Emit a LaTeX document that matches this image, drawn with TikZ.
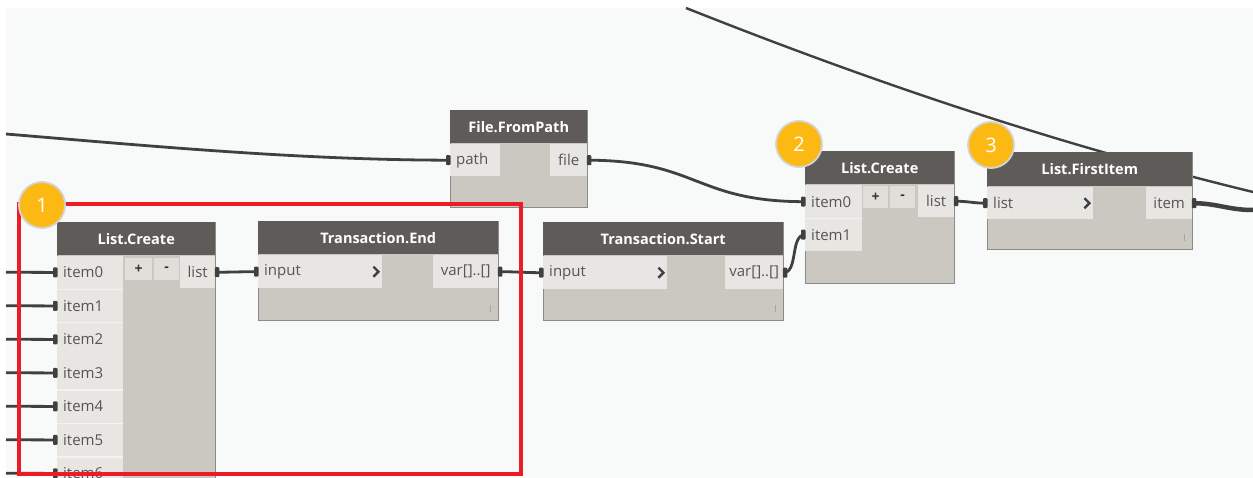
\documentclass[tikz,border=0pt]{standalone}
\usepackage{fontspec}
\setmainfont{Open Sans}
\usetikzlibrary{calc}

\definecolor{canvas}{HTML}{F8F9F9}
\definecolor{hdrfill}{HTML}{5E5B59}
\definecolor{bodyfill}{HTML}{CBC7C1}
\definecolor{portfill}{HTML}{E8E6E3}
\definecolor{btnfill}{HTML}{E1DEDA}
\definecolor{edge}{HTML}{8E8A86}
\definecolor{portfg}{HTML}{555555}
\definecolor{wirecol}{HTML}{404040}
\definecolor{frame}{HTML}{EC1C24}
\definecolor{badge}{HTML}{FDB913}
\definecolor{badgerim}{HTML}{D4D4D4}
\definecolor{sepline}{HTML}{F4F3F1}
\definecolor{chev}{HTML}{3A404A}

\pgfdeclarelayer{canvaslayer}
\pgfdeclarelayer{wires}
\pgfsetlayers{canvaslayer,wires,main}

\tikzset{
  nodebody/.style={draw=edge, line width=0.8pt, fill=bodyfill, anchor=north west,
    inner sep=0pt},
  hdr/.style={fill=hdrfill, anchor=north west, inner sep=0pt, minimum height=33pt,
    text=white, font=\fontsize{14.5}{16}\selectfont\bfseries},
  inport/.style={fill=portfill, anchor=north west, inner xsep=6pt, inner ysep=0pt,
    align=left, text=portfg, font=\fontsize{15}{17}\selectfont},
  outport/.style={fill=portfill, anchor=north west, inner sep=0pt,
    text=portfg, font=\fontsize{15}{17}\selectfont},
  btn/.style={fill=btnfill, anchor=north west, inner sep=0pt, text=black!80,
    font=\fontsize{14}{16}\selectfont\bfseries},
  wire/.style={draw=wirecol, line width=2.8pt},
  tab/.style={fill=wirecol, rounded corners=1pt},
  chevron/.style={draw=chev, line width=2.4pt},
  tick/.style={draw=gray!70, line width=1pt},
  sep/.style={draw=sepline, line width=1.2pt},
  marker/.style={circle, fill=badge, draw=badgerim, line width=1.8pt,
    minimum size=46pt, inner sep=0pt, text=white, font=\fontsize{20}{22}\selectfont},
}

% wire end tabs at port edges
\newcommand\intab[1]{\fill[tab] ($(#1.west)+(-4,-5)$) rectangle ($(#1.west)+(0.5,5)$);}
\newcommand\outtab[1]{\fill[tab] ($(#1.east)+(-0.5,-5)$) rectangle ($(#1.east)+(4,5)$);}
\newcommand\chevat[1]{\draw[chevron] ($(#1.east)+(-9,-5)$) -- ($(#1.east)+(-4,0)$) -- ($(#1.east)+(-9,5)$);}

\begin{document}
\begin{tikzpicture}[x=1pt,y=-1pt]
\useasboundingbox (0,0) rectangle (1253,478);
\begin{pgfonlayer}{canvaslayer}
  \fill[white] (0,0) rectangle (1253,478);
  \fill[canvas] (6,8) rectangle (1253,478);
\end{pgfonlayer}

% ---------- File.FromPath ----------
\node[nodebody, minimum width=137pt, minimum height=97pt] (fp) at (450,110) {};
\node[hdr, minimum width=137pt] (fp-h) at (450,110) {File.FromPath};
\node[inport, text width=38pt, minimum height=32pt] (fp-path) at (450,144) {path};
\node[outport, minimum width=37pt, minimum height=32pt] (fp-file) at (550,144) {file};

% ---------- List.Create (left) ----------
\node[nodebody, minimum width=158pt, minimum height=270pt] (lc1) at (57,222) {};
\node[hdr, minimum width=158pt] (lc1-h) at (57,222) {List.Create};
\foreach \i in {0,...,6}{
  \node[inport, text width=54pt, minimum height=33.5pt] (lc1-i\i) at (57,{255.5+33.5*\i}) {item\i};
}
\foreach \i in {0,1,3,4,5}{
  \draw[sep] (lc1-i\i.south west) -- (lc1-i\i.south east);
}
\node[btn, minimum width=27pt, minimum height=22pt] (lc1-plus) at (125,258) {+};
\node[btn, minimum width=25pt, minimum height=22pt] (lc1-minus) at (154,258) {-};
\node[outport, minimum width=35pt, minimum height=32pt] (lc1-list) at (180,256) {list};

% ---------- Transaction.End ----------
\node[nodebody, minimum width=240pt, minimum height=99pt] (te) at (258,221) {};
\node[hdr, minimum width=240pt] (te-h) at (258,221) {Transaction.End};
\node[inport, text width=112pt, minimum height=33pt] (te-in) at (258,255) {input};
\node[outport, minimum width=65pt, minimum height=33pt] (te-out) at (433,255) {var[]..[]};
\chevat{te-in}
\draw[tick] ($(te.south east)+(-8,-9)$) -- ($(te.south east)+(-8,-16)$);

% ---------- Transaction.Start ----------
\node[nodebody, minimum width=240pt, minimum height=98pt] (ts) at (543,222) {};
\node[hdr, minimum width=240pt] (ts-h) at (543,222) {Transaction.Start};
\node[inport, text width=112pt, minimum height=33pt] (ts-in) at (543,256) {input};
\node[outport, minimum width=58pt, minimum height=33pt] (ts-out) at (725,256) {var[]..[]};
\chevat{ts-in}
\draw[tick] ($(ts.south east)+(-8,-9)$) -- ($(ts.south east)+(-8,-16)$);

% ---------- List.Create (right) ----------
\node[nodebody, minimum width=149pt, minimum height=132pt] (lc2) at (805,151) {};
\node[hdr, minimum width=149pt] (lc2-h) at (805,151) {List.Create};
\node[inport, text width=45pt, minimum height=33pt] (lc2-i0) at (805,185) {item0};
\node[inport, text width=45pt, minimum height=33pt] (lc2-i1) at (805,218) {item1};
\draw[sep] (lc2-i0.south west) -- (lc2-i0.south east);
\node[btn, minimum width=25pt, minimum height=22pt] (lc2-plus) at (863,186) {+};
\node[btn, minimum width=25pt, minimum height=22pt] (lc2-minus) at (890,186) {-};
\node[outport, minimum width=36pt, minimum height=32pt] (lc2-list) at (918,185) {list};

% ---------- List.FirstItem ----------
\node[nodebody, minimum width=205pt, minimum height=97pt] (fi) at (987,152) {};
\node[hdr, minimum width=205pt, minimum height=34pt] (fi-h) at (987,152) {List.FirstItem};
\node[inport, text width=94pt, minimum height=32pt] (fi-list) at (987,187) {list};
\node[outport, minimum width=46pt, minimum height=32pt] (fi-item) at (1146,187) {item};
\chevat{fi-list}
\draw[tick] ($(fi.south east)+(-8,-9)$) -- ($(fi.south east)+(-8,-16)$);

% ---------- connectors ----------
\coordinate (topA) at (686,8);
\coordinate (topB) at (1253,192);
\coordinate (leftA) at (6,134);
\coordinate (rightB) at (1253,210);
\foreach \i in {0,...,6}{ \coordinate (stub\i) at (6,{272.25+33.5*\i}); }

\begin{pgfonlayer}{wires}
  \draw[wire, line width=2.4pt] (topA) .. controls (880,85) and (1060,145) .. (topB);
  \draw[wire] (leftA) .. controls (150,146) and (300,160) .. (fp-path.west);
  \draw[wire] (fp-file.east) .. controls +(110,0) and +(-110,0) .. (lc2-i0.west);
  \foreach \i in {0,...,6}{ \draw[wire] (stub\i) -- (lc1-i\i.west); }
  \draw[wire] (lc1-list.east) .. controls +(20,0) and +(-20,0) .. (te-in.west);
  \draw[wire] (te-out.east) .. controls +(20,0) and +(-20,0) .. (ts-in.west);
  \draw[wire] (ts-out.east) .. controls +(15,0) and +(-15,0) .. (lc2-i1.west);
  \draw[wire] (lc2-list.east) .. controls +(15,0) and +(-15,0) .. (fi-list.west);
  \draw[wire, line width=4.5pt] (fi-item.east) .. controls +(25,0) and +(-25,0) .. (rightB);
\end{pgfonlayer}

% wire end tabs
\intab{fp-path} \outtab{fp-file}
\foreach \i in {0,...,6}{ \intab{lc1-i\i} }
\outtab{lc1-list} \intab{te-in} \outtab{te-out}
\intab{ts-in} \outtab{ts-out}
\intab{lc2-i0} \intab{lc2-i1} \outtab{lc2-list}
\intab{fi-list} \outtab{fi-item}

% ---------- highlight frame and step markers ----------
\draw[frame, line width=3.6pt] (19,204) rectangle (521,474);
\node[marker] (m1) at (42,205) {1};
\node[marker] (m2) at (799,144) {2};
\node[marker] (m3) at (991,145) {3};
\end{tikzpicture}
\end{document}
